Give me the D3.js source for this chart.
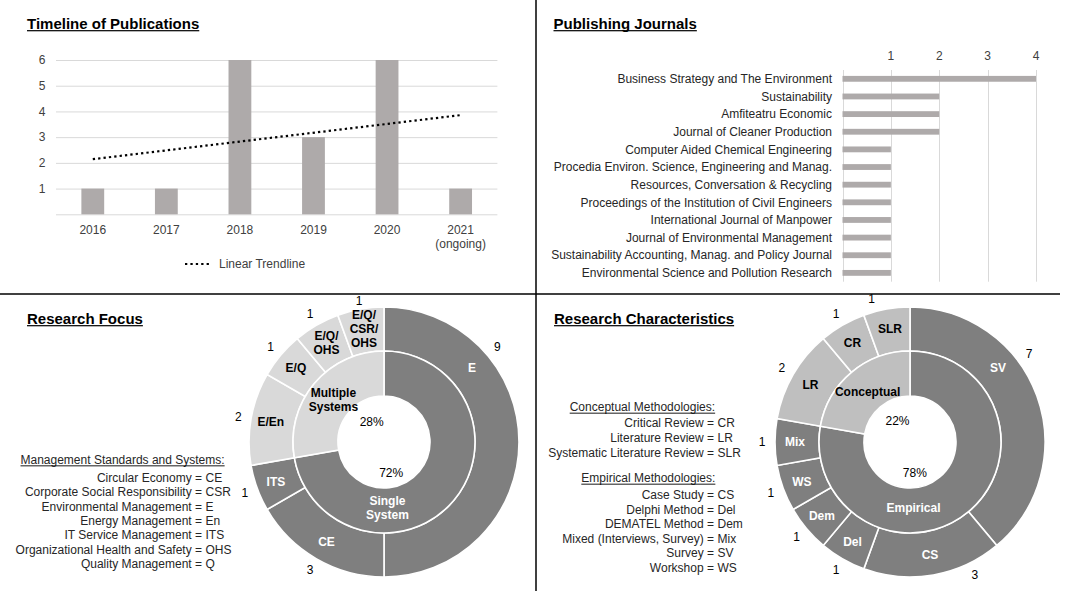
<!DOCTYPE html>
<html><head><meta charset="utf-8">
<script src="https://cdn.jsdelivr.net/npm/d3@7/dist/d3.min.js"></script>
<style>
body{margin:0;background:#fff;}
svg{display:block;font-family:"Liberation Sans",Arial,sans-serif;}
</style>
</head><body>
<svg id="c" width="1066" height="591"></svg>
<script>
// ---------------- DATA ----------------
const years = ["2016","2017","2018","2019","2020","2021"];
const yearNotes = ["","","","","","(ongoing)"];
const publications = [1,1,6,3,6,1];
const pubTicks = [1,2,3,4,5,6];
const trendLabel = "Linear Trendline";

const journals = [
  "Business Strategy and The Environment",
  "Sustainability",
  "Amfiteatru Economic",
  "Journal of Cleaner Production",
  "Computer Aided Chemical Engineering",
  "Procedia Environ. Science, Engineering and Manag.",
  "Resources, Conversation & Recycling",
  "Proceedings of the Institution of Civil Engineers",
  "International Journal of Manpower",
  "Journal of Environmental Management",
  "Sustainability Accounting, Manag.  and Policy Journal",
  "Environmental Science and Pollution Research"
];
const journalCounts = [4,2,2,2,1,1,1,1,1,1,1,1];
const journalTicks = [1,2,3,4];

const focusSegments = ["E","CE","ITS","E/En","E/Q","E/Q/OHS","E/Q/CSR/OHS"];
const focusSegLines = [["E"],["CE"],["ITS"],["E/En"],["E/Q"],["E/Q/","OHS"],["E/Q/","CSR/","OHS"]];
const focusCounts = [9,3,1,2,1,1,1];
const focusSegGroup = [0,0,0,1,1,1,1];
const focusGroups = ["Single System","Multiple Systems"];
const focusGroupLines = [["Single","System"],["Multiple","Systems"]];

const methodSegments = ["SV","CS","Del","Dem","WS","Mix","LR","CR","SLR"];
const methodSegLines = [["SV"],["CS"],["Del"],["Dem"],["WS"],["Mix"],["LR"],["CR"],["SLR"]];
const methodCounts = [7,3,1,1,1,1,2,1,1];
const methodSegGroup = [0,0,0,0,0,0,1,1,1];
const methodGroups = ["Empirical","Conceptual"];
const methodGroupLines = [["Empirical"],["Conceptual"]];

const focusLegendTitle = "Management Standards and Systems:";
const focusLegendTerms = ["Circular Economy","Corporate Social Responsibility","Environmental Management","Energy Management","IT Service Management","Organizational Health and Safety","Quality Management"];
const focusLegendAbbr = ["CE","CSR","E","En","ITS","OHS","Q"];

const conceptLegendTitle = "Conceptual Methodologies:";
const conceptLegendTerms = ["Critical Review","Literature Review","Systematic Literature Review"];
const conceptLegendAbbr = ["CR","LR","SLR"];
const empiricalLegendTitle = "Empirical Methodologies:";
const empiricalLegendTerms = ["Case Study","Delphi Method","DEMATEL Method","Mixed (Interviews, Survey)","Survey","Workshop"];
const empiricalLegendAbbr = ["CS","Del","Dem","Mix","SV","WS"];

const titles = ["Timeline of Publications","Publishing Journals","Research Focus","Research Characteristics"];

// ---------------- STYLE ----------------
const BAR = "#aeaaaa", GRID = "#d9d9d9", TXT = "#404040", DARK = "#7f7f7f";
const svg = d3.select("#c");

function underlinedText(g, x, y, txt, size, bold){
  const t = g.append("text").attr("x",x).attr("y",y).attr("font-size",size)
    .attr("font-weight", bold ? "bold" : "normal").attr("fill","#000").text(txt);
  const w = t.node().getComputedTextLength();
  g.append("rect").attr("x",x).attr("y",y + (bold?1.6:1.4)).attr("width",w)
    .attr("height", bold?1.2:0.9).attr("fill","#000");
  return t;
}

// dividers
svg.append("line").attr("x1",536).attr("x2",536).attr("y1",0).attr("y2",591).attr("stroke","#000").attr("stroke-width",1.5);
svg.append("line").attr("x1",0).attr("x2",1060).attr("y1",294).attr("y2",294).attr("stroke","#000").attr("stroke-width",1.5);

// titles
underlinedText(svg, 27, 28.5, titles[0], 15, true);
underlinedText(svg, 553.5, 28.5, titles[1], 15, true);
underlinedText(svg, 27, 323.5, titles[2], 15, true);
underlinedText(svg, 554, 323.5, titles[3], 15, true);

// ---------------- TIMELINE ----------------
(function(){
  const g = svg.append("g");
  const x = d3.scaleBand().domain(years).range([56, 497.4]).paddingInner(0.69).paddingOuter(0.345);
  const y = d3.scaleLinear().domain([0,6]).range([214.3, 60]);
  g.selectAll("line.grid").data([0].concat(pubTicks)).join("line")
    .attr("x1",56).attr("x2",497.4).attr("y1",d=>y(d)+0.5).attr("y2",d=>y(d)+0.5)
    .attr("stroke",GRID).attr("stroke-width",1);
  g.selectAll("text.yt").data(pubTicks).join("text")
    .attr("x",45.5).attr("y",d=>y(d)+4.2).attr("text-anchor","end")
    .attr("font-size",12).attr("fill",TXT).text(d=>d);
  g.selectAll("rect.bar").data(publications).join("rect")
    .attr("x",(d,i)=>x(years[i])).attr("width",x.bandwidth())
    .attr("y",d=>y(d)).attr("height",d=>y(0)-y(d)).attr("fill",BAR);
  g.selectAll("text.xt").data(years).join("text")
    .attr("x",d=>x(d)+x.bandwidth()/2).attr("y",233.5).attr("text-anchor","middle")
    .attr("font-size",12).attr("fill",TXT).text(d=>d);
  g.selectAll("text.xn").data(yearNotes).join("text")
    .attr("x",(d,i)=>x(years[i])+x.bandwidth()/2).attr("y",247.5).attr("text-anchor","middle")
    .attr("font-size",12).attr("fill",TXT).text(d=>d);
  // least-squares trendline
  const n = publications.length, xs = d3.range(n);
  const mx = d3.mean(xs), my = d3.mean(publications);
  const slope = d3.sum(xs,(v,i)=>(v-mx)*(publications[i]-my))/d3.sum(xs,v=>(v-mx)*(v-mx));
  const icpt = my - slope*mx;
  const cx = i => x(years[i]) + x.bandwidth()/2;
  g.append("line").attr("x1",cx(0)).attr("y1",y(icpt)).attr("x2",cx(n-1)).attr("y2",y(icpt+slope*(n-1)))
    .attr("stroke","#000").attr("stroke-width",2.2).attr("stroke-dasharray","2.3 3.1");
  g.append("line").attr("x1",185).attr("x2",211).attr("y1",264).attr("y2",264)
    .attr("stroke","#000").attr("stroke-width",2.2).attr("stroke-dasharray","2.3 3.1");
  g.append("text").attr("x",219).attr("y",268).attr("font-size",12).attr("fill",TXT).text(trendLabel);
})();

// ---------------- JOURNALS ----------------
(function(){
  const g = svg.append("g");
  const x = d3.scaleLinear().domain([0,4]).range([842.5,1036]);
  const y = d3.scaleBand().domain(journals).range([70,281.7]).paddingInner(0.67).paddingOuter(0.335);
  g.selectAll("line.grid").data([0].concat(journalTicks)).join("line")
    .attr("x1",d=>Math.round(x(d))+0.5).attr("x2",d=>Math.round(x(d))+0.5).attr("y1",70).attr("y2",281.7)
    .attr("stroke",GRID).attr("stroke-width",1);
  g.selectAll("text.xt").data(journalTicks).join("text")
    .attr("x",d=>x(d)).attr("y",60).attr("text-anchor","middle")
    .attr("font-size",12).attr("fill",TXT).text(d=>d);
  g.selectAll("rect.bar").data(journalCounts).join("rect")
    .attr("x",x(0)).attr("y",(d,i)=>y(journals[i])).attr("height",y.bandwidth())
    .attr("width",d=>x(d)-x(0)).attr("fill",BAR);
  g.selectAll("text.lab").data(journals).join("text")
    .attr("x",832).attr("y",d=>y(d)+y.bandwidth()/2+4.2).attr("text-anchor","end")
    .attr("font-size",12).attr("fill","#262626").text(d=>d);
})();

// ---------------- DONUTS ----------------
const geo = {R:135, rMid:91, r0:46, segR:115, valR:148, innerR:66};
function polar(deg, r){ const a = deg*Math.PI/180; return [r*Math.sin(a), -r*Math.cos(a)]; }
function multiline(g, cx, cy, lines, opts){
  const lh = 14;
  lines.forEach((s,k)=>{
    g.append("text").attr("x",cx).attr("y",cy + (k-(lines.length-1)/2)*lh + 4.2)
      .attr("text-anchor","middle").attr("font-size",12)
      .attr("font-weight",opts.bold?"bold":"normal").attr("fill",opts.fill).text(s);
  });
}
function donut(cx, cy, segs, segLines, counts, segGroup, groups, groupLines, light, ov){
  const g = svg.append("g").attr("transform",`translate(${cx},${cy})`);
  const pie = d3.pie().sort(null).value(d=>d);
  const groupCounts = groups.map((_,j)=>d3.sum(counts.filter((c,i)=>segGroup[i]===j)));
  const total = d3.sum(counts);
  const outer = pie(counts), inner = pie(groupCounts);
  const arcO = d3.arc().innerRadius(geo.rMid).outerRadius(geo.R);
  const arcI = d3.arc().innerRadius(geo.r0).outerRadius(geo.rMid);
  g.selectAll("path.o").data(outer).join("path").attr("d",arcO)
    .attr("fill",(d,i)=>segGroup[i]===0?DARK:light).attr("stroke","#fff").attr("stroke-width",1.6);
  g.selectAll("path.i").data(inner).join("path").attr("d",arcI)
    .attr("fill",(d,j)=>j===0?DARK:light).attr("stroke","#fff").attr("stroke-width",1.6);
  const deg = a => a*180/Math.PI;
  outer.forEach((d,i)=>{
    const mid = deg((d.startAngle+d.endAngle)/2);
    const la = ov.seg[segs[i]] !== undefined ? ov.seg[segs[i]] : mid;
    const p = polar(la, geo.segR);
    multiline(g, p[0], p[1], segLines[i], {bold:true, fill: segGroup[i]===0?"#fff":"#000"});
    const va = ov.val[segs[i]] !== undefined ? ov.val[segs[i]] : la;
    const vr = ov.valR && ov.valR[segs[i]] !== undefined ? ov.valR[segs[i]] : geo.valR;
    const q = polar(va, vr);
    multiline(g, q[0], q[1], [String(counts[i])], {bold:false, fill:"#000"});
  });
  inner.forEach((d,j)=>{
    const mid = deg((d.startAngle+d.endAngle)/2);
    const la = ov.grp[j] !== undefined ? ov.grp[j] : mid;
    const p = polar(la, geo.innerR);
    multiline(g, p[0], p[1], groupLines[j], {bold:true, fill: j===0?"#fff":"#000"});
    const pc = polar(ov.pct[j][0], ov.pct[j][1]);
    multiline(g, pc[0], pc[1], [Math.round(groupCounts[j]/total*100)+"%"], {bold:false, fill:"#000"});
  });
}
donut(384, 442, focusSegments, focusSegLines, focusCounts, focusSegGroup, focusGroups, focusGroupLines, "#d9d9d9",
  {seg:{"E":50}, val:{}, valR:{"E/Q/CSR/OHS":143}, grp:{0:177}, pct:[[167,32],[329,24]]});
donut(910, 442, methodSegments, methodSegLines, methodCounts, methodSegGroup, methodGroups, methodGroupLines, "#bfbfbf",
  {seg:{"SV":50}, val:{"SV":53.5,"CS":154,"SLR":345}, valR:{}, grp:{0:177}, pct:[[171,31],[330,25]]});

// ---------------- LEGENDS ----------------
function legendBlock(titleX, titleY, title, terms, abbr, splitX, y0, step){
  const g = svg.append("g").attr("fill","#262626");
  underlinedText(g, titleX, titleY, title, 12, false).attr("fill","#262626");
  terms.forEach((t,i)=>{
    g.append("text").attr("x",splitX-3.5).attr("y",y0+i*step).attr("text-anchor","end").attr("font-size",12).text(t+" =");
    g.append("text").attr("x",splitX).attr("y",y0+i*step).attr("font-size",12).text(abbr[i]);
  });
}
legendBlock(20.5, 464, focusLegendTitle, focusLegendTerms, focusLegendAbbr, 205.5, 481.8, 14.4);
legendBlock(569.7, 411.3, conceptLegendTitle, conceptLegendTerms, conceptLegendAbbr, 717.5, 427.3, 14.7);
legendBlock(581.3, 482.3, empiricalLegendTitle, empiricalLegendTerms, empiricalLegendAbbr, 717.5, 499, 14.55);
</script>
</body></html>
